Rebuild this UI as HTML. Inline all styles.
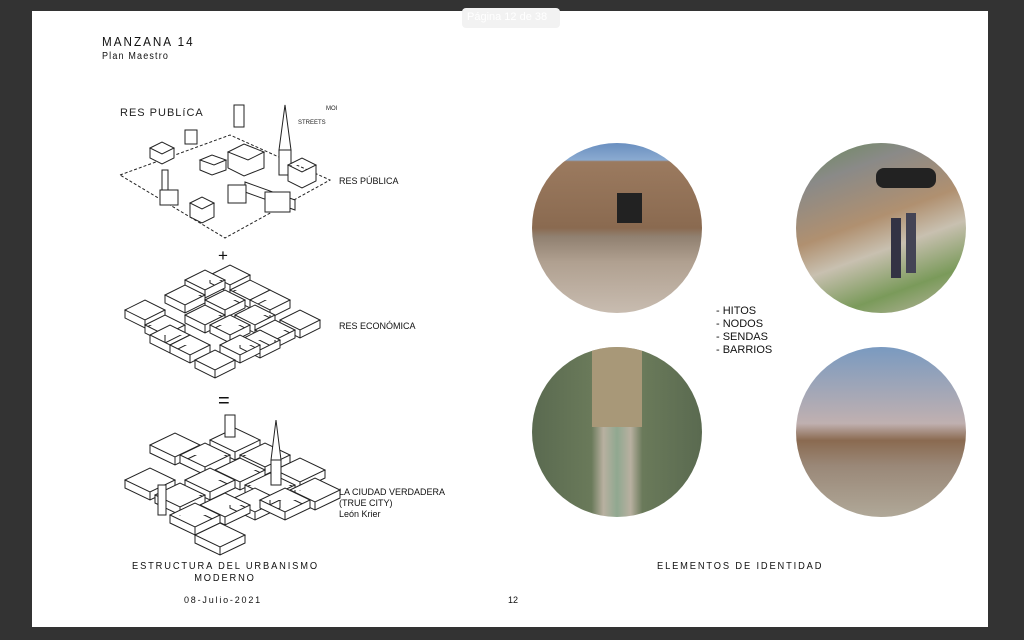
<!DOCTYPE html>
<html><head><meta charset="utf-8"><style>
body{margin:0;width:1024px;height:640px;background:#333;position:relative;overflow:hidden;font-family:"Liberation Sans",sans-serif}
.page{position:absolute;left:32px;top:11px;width:956px;height:616px;background:#fff}
.t{position:absolute;color:#111;white-space:nowrap}
.c{position:absolute;border-radius:50%;overflow:hidden;width:170px;height:170px}
</style></head><body>
<div class="page"></div>
<div class="t" style="left:462px;top:8px;width:98px;height:20px;background:#f2f2f2;border-radius:4px"></div>
<div class="t" style="left:467px;top:11px;font-size:11px;color:#fff">Página 12 de 38</div>
<div class="t" style="left:102px;top:34px;font-size:13px;letter-spacing:2.2px;transform:scaleX(.9);transform-origin:left">MANZANA 14</div>
<div class="t" style="left:102px;top:51px;font-size:10px;letter-spacing:1.3px;transform:scaleX(.9);transform-origin:left">Plan Maestro</div>

<svg style="position:absolute;left:0;top:0" width="1024" height="640" fill="none" stroke="#222" stroke-width="1">
<text x="120" y="116" font-size="11" fill="#222" stroke="none" font-family="Liberation Sans" letter-spacing="1">RES PUBLíCA</text>
<text x="326" y="110" font-size="6" fill="#222" stroke="none" font-family="Liberation Sans">MOI</text>
<text x="298" y="124" font-size="6" fill="#222" stroke="none" font-family="Liberation Sans">STREETS</text>
<polygon points="120,175 230,135 330,180 225,238" stroke-dasharray="3,2"/>
<g fill="#fff">
<path d="M150,148 l12,-6 l12,6 l-12,6z l0,10 l12,6 l12,-6 l0,-10"/>
<rect x="185" y="130" width="12" height="14"/>
<path d="M200,160 l12,-5 l14,5 l-12,5z l0,10 l12,5 l14,-5 l0,-10"/>
<path d="M228,152 l16,-8 l20,8 l-16,8z l0,16 l16,8 l20,-8 l0,-16"/>
<rect x="234" y="105" width="10" height="22"/>
<path d="M285,105 l-6,45 l12,0z"/><rect x="279" y="150" width="12" height="25"/>
<path d="M288,165 l14,-7 l14,7 l-14,7z l0,16 l14,7 l14,-7 l0,-16"/>
<path d="M245,182 l50,18 l0,10 l-50,-18z"/>
<rect x="228" y="185" width="18" height="18"/>
<path d="M190,203 l12,-6 l12,6 l-12,6z l0,14 l12,6 l12,-6 l0,-14"/>
<rect x="160" y="190" width="18" height="15"/><rect x="162" y="170" width="6" height="20"/>
<rect x="265" y="192" width="25" height="20"/>
</g>
<g fill="#fff">
<path d="M210,275 l20,-10 l20,10 l-20,10z l0,8 l20,10 l20,-10 l0,-8 m-20,10 l0,8"/>
<path d="M185,280 l20,-10 l20,10 l-20,10z l0,8 l20,10 l20,-10 l0,-8 m-20,10 l0,8"/>
<path d="M230,290 l20,-10 l20,10 l-20,10z l0,8 l20,10 l20,-10 l0,-8 m-20,10 l0,8"/>
<path d="M165,295 l20,-10 l20,10 l-20,10z l0,8 l20,10 l20,-10 l0,-8 m-20,10 l0,8"/>
<path d="M250,300 l20,-10 l20,10 l-20,10z l0,8 l20,10 l20,-10 l0,-8 m-20,10 l0,8"/>
<path d="M205,300 l20,-10 l20,10 l-20,10z l0,8 l20,10 l20,-10 l0,-8 m-20,10 l0,8"/>
<path d="M125,310 l20,-10 l20,10 l-20,10z l0,8 l20,10 l20,-10 l0,-8 m-20,10 l0,8"/>
<path d="M185,315 l20,-10 l20,10 l-20,10z l0,8 l20,10 l20,-10 l0,-8 m-20,10 l0,8"/>
<path d="M235,315 l20,-10 l20,10 l-20,10z l0,8 l20,10 l20,-10 l0,-8 m-20,10 l0,8"/>
<path d="M280,320 l20,-10 l20,10 l-20,10z l0,8 l20,10 l20,-10 l0,-8 m-20,10 l0,8"/>
<path d="M145,325 l20,-10 l20,10 l-20,10z l0,8 l20,10 l20,-10 l0,-8 m-20,10 l0,8"/>
<path d="M210,325 l20,-10 l20,10 l-20,10z l0,8 l20,10 l20,-10 l0,-8 m-20,10 l0,8"/>
<path d="M255,330 l20,-10 l20,10 l-20,10z l0,8 l20,10 l20,-10 l0,-8 m-20,10 l0,8"/>
<path d="M150,335 l20,-10 l20,10 l-20,10z l0,8 l20,10 l20,-10 l0,-8 m-20,10 l0,8"/>
<path d="M240,340 l20,-10 l20,10 l-20,10z l0,8 l20,10 l20,-10 l0,-8 m-20,10 l0,8"/>
<path d="M170,345 l20,-10 l20,10 l-20,10z l0,8 l20,10 l20,-10 l0,-8 m-20,10 l0,8"/>
<path d="M220,345 l20,-10 l20,10 l-20,10z l0,8 l20,10 l20,-10 l0,-8 m-20,10 l0,8"/>
<path d="M195,360 l20,-10 l20,10 l-20,10z l0,8 l20,10 l20,-10 l0,-8 m-20,10 l0,8"/>
</g>
<g fill="#fff">
<path d="M210,440 l25,-12 l25,12 l-25,12z l0,8 l25,12 l25,-12 l0,-8 m-25,12 l0,8"/>
<path d="M150,445 l25,-12 l25,12 l-25,12z l0,8 l25,12 l25,-12 l0,-8 m-25,12 l0,8"/>
<path d="M180,455 l25,-12 l25,12 l-25,12z l0,8 l25,12 l25,-12 l0,-8 m-25,12 l0,8"/>
<path d="M240,455 l25,-12 l25,12 l-25,12z l0,8 l25,12 l25,-12 l0,-8 m-25,12 l0,8"/>
<path d="M215,470 l25,-12 l25,12 l-25,12z l0,8 l25,12 l25,-12 l0,-8 m-25,12 l0,8"/>
<path d="M275,470 l25,-12 l25,12 l-25,12z l0,8 l25,12 l25,-12 l0,-8 m-25,12 l0,8"/>
<path d="M125,480 l25,-12 l25,12 l-25,12z l0,8 l25,12 l25,-12 l0,-8 m-25,12 l0,8"/>
<path d="M185,480 l25,-12 l25,12 l-25,12z l0,8 l25,12 l25,-12 l0,-8 m-25,12 l0,8"/>
<path d="M245,485 l25,-12 l25,12 l-25,12z l0,8 l25,12 l25,-12 l0,-8 m-25,12 l0,8"/>
<path d="M290,490 l25,-12 l25,12 l-25,12z l0,8 l25,12 l25,-12 l0,-8 m-25,12 l0,8"/>
<path d="M155,495 l25,-12 l25,12 l-25,12z l0,8 l25,12 l25,-12 l0,-8 m-25,12 l0,8"/>
<path d="M230,500 l25,-12 l25,12 l-25,12z l0,8 l25,12 l25,-12 l0,-8 m-25,12 l0,8"/>
<path d="M260,500 l25,-12 l25,12 l-25,12z l0,8 l25,12 l25,-12 l0,-8 m-25,12 l0,8"/>
<path d="M200,505 l25,-12 l25,12 l-25,12z l0,8 l25,12 l25,-12 l0,-8 m-25,12 l0,8"/>
<path d="M170,515 l25,-12 l25,12 l-25,12z l0,8 l25,12 l25,-12 l0,-8 m-25,12 l0,8"/>
<path d="M195,535 l25,-12 l25,12 l-25,12z l0,8 l25,12 l25,-12 l0,-8 m-25,12 l0,8"/>
<path d="M276,420 l-5,40 l10,0z"/><rect x="271" y="460" width="10" height="25"/>
<rect x="225" y="415" width="10" height="22"/>
<rect x="158" y="485" width="8" height="30"/>
</g>
</svg>

<div class="t" style="left:218px;top:246px;font-size:17px">+</div>
<div class="t" style="left:218px;top:390px;font-size:20px">=</div>
<div class="t" style="left:339px;top:176px;font-size:9px">RES PÚBLICA</div>
<div class="t" style="left:339px;top:321px;font-size:9px">RES ECONÓMICA</div>
<div class="t" style="left:339px;top:487px;font-size:9px;line-height:11px">LA CIUDAD VERDADERA<br>(TRUE CITY)<br>León Krier</div>
<div class="t" style="left:125px;top:561px;font-size:10px;letter-spacing:2px;text-align:center;line-height:12px;width:200px;transform:scaleX(.93);transform-origin:center">ESTRUCTURA DEL URBANISMO<br>MODERNO</div>
<div class="t" style="left:184px;top:595px;font-size:9px;letter-spacing:1.8px">08-Julio-2021</div>
<div class="t" style="left:508px;top:595px;font-size:9px">12</div>
<div class="t" style="left:657px;top:561px;font-size:10px;letter-spacing:2px;transform:scaleX(.93);transform-origin:left">ELEMENTOS DE IDENTIDAD</div>
<div class="t" style="left:716px;top:305px;font-size:11px;line-height:13px">- HITOS<br>- NODOS<br>- SENDAS<br>- BARRIOS</div>

<div class="c" style="left:532px;top:143px;background:linear-gradient(#6a8fc0 0,#8aaad0 10%,#9b7a5f 11%,#8a6a50 50%,#908070 55%,#b0a090 70%,#c8bcb0 100%)"><div style="position:absolute;left:85px;top:50px;width:25px;height:30px;background:#222"></div></div>
<div class="c" style="left:796px;top:143px;background:linear-gradient(160deg,#6a8a5a 0,#8a8a88 20%,#b09070 45%,#c8c0b0 60%,#7a9a5a 80%,#c0b8a8 100%)"><div style="position:absolute;left:80px;top:25px;width:60px;height:20px;background:#222;border-radius:8px"></div><div style="position:absolute;left:95px;top:75px;width:10px;height:60px;background:#334;"></div><div style="position:absolute;left:110px;top:70px;width:10px;height:60px;background:#445;"></div></div>
<div class="c" style="left:532px;top:347px;background:linear-gradient(90deg,#5a6a50 0,#6a7a5a 35%,#b8b0a0 42%,#90a890 50%,#b8b0a0 58%,#6a7a5a 65%,#5a6a50 100%)"><div style="position:absolute;left:60px;top:0;width:50px;height:80px;background:#a89878"></div></div>
<div class="c" style="left:796px;top:347px;background:linear-gradient(#7a9ac0 0,#c0b0b0 45%,#8a6a50 55%,#9a8878 70%,#b0a898 100%)"></div>
</body></html>
